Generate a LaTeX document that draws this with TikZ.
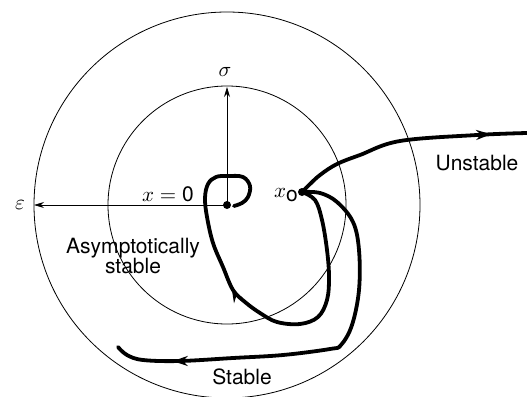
\documentclass[tikz,border=0pt]{standalone}
\usepackage{fontspec}
\setsansfont{TeX Gyre Heros}
\usepackage{graphicx}
\usetikzlibrary{arrows.meta,decorations.markings}
\newcommand{\mysym}[1]{\scalebox{2.1}{#1}}
\begin{document}
\begin{tikzpicture}[x=1pt,y=-1pt,
  thinline/.style={line width=0.8pt},
  traj/.style={line width=3.8pt, line cap=round, line join=round},
  midarrow/.style={postaction={decorate},decoration={markings,
     mark=at position #1 with {\arrow{Stealth[length=15pt,width=10pt]}}}},
  lbl/.style={font=\sffamily\fontsize{21}{23}\selectfont, inner sep=0pt, align=center},
  mlbl/.style={inner sep=0pt},
  dot/.style={circle, fill, inner sep=0pt, minimum size=8pt}]
\useasboundingbox (0,0) rectangle (527,396);
\clip (0,0) rectangle (527,396);
% circles
\node[dot] (o) at (227,205) {};
\node[dot] (xo) at (302,192) {};
\draw[thinline] (o.center) circle[radius=119pt];
\draw[thinline] (o.center) circle[radius=193pt];
% axes
\coordinate (ytip) at (227,87);
\coordinate (xtip) at (34,205);
\draw[thinline,-{Stealth[length=10pt,width=6pt]}] (o.center) -- (ytip);
\draw[thinline,-{Stealth[length=10pt,width=6pt]}] (o.center) -- (xtip);
\node[mlbl] (sig) at (225,72) {\mysym{$\sigma$}};
\node[mlbl] (eps) at (20,205) {\mysym{$\varepsilon$}};
\node[mlbl] (x0) at (168,194) {\mysym{$x = \textsf{0}$}};
\node[mlbl, anchor=east] (xol) at (299,195) {\mysym{$x_{\textsf{o}}$}};
% asymptotically stable trajectory
\draw[traj, midarrow=0.56] plot[smooth, tension=0.6] coordinates {
  (302,192) (315,200) (322,220) (327,250) (329,277) (327,300) (318,317)
  (300,324) (277,322) (260,313) (245,302) (233,290) (223,267) (213,243)
  (207,217) (205,198) (208,184) (216,177) (228,176) (243,177) (250,186)
  (248,197) (242,203) (234,206)};
% stable trajectory
\draw[traj, midarrow=0.86] plot[smooth, tension=0.6] coordinates {
  (302,192) (320,193) (337,202) (353,222) (359,250) (359,290) (352,325)
  (341,345) (330,349) (283,355) (233,358) (180,361) (143,360) (127,355)
  (118,347)};
% unstable trajectory
\draw[traj, midarrow=0.85] plot[smooth, tension=0.6] coordinates {
  (302,192) (308,186) (320,175) (337,164) (360,155) (400,141) (477,135)
  (527,133)};
% labels
\node[lbl] (uns) at (477,163) {Unstable};
\node[lbl] (stb) at (242,377) {Stable};
\node[lbl] (asy) at (133,256) {Asymptotically\\[-3pt]stable};
\end{tikzpicture}
\end{document}
